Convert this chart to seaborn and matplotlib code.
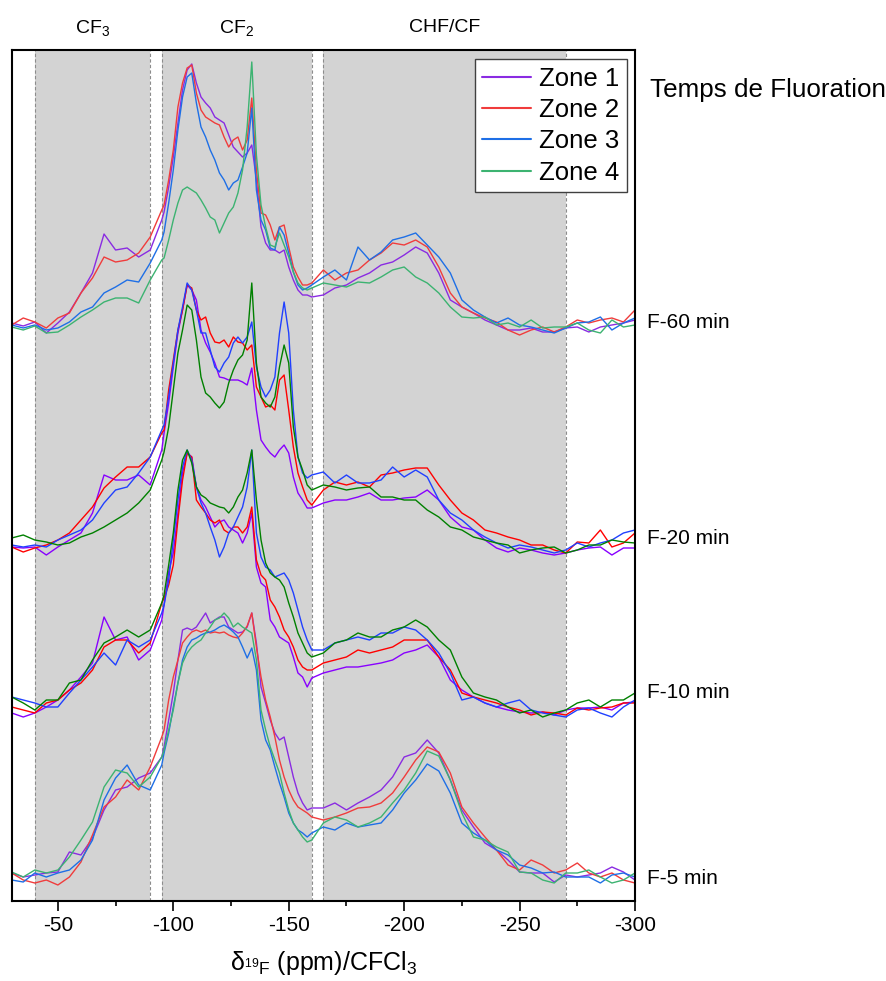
import numpy as np
import pandas as pd
import matplotlib
matplotlib.use("Agg")
import matplotlib.pyplot as plt
from matplotlib.lines import Line2D
from matplotlib.ticker import MultipleLocator
import matplotlib.transforms as mtransforms
import seaborn as sns

# chemical shift grid (ppm), finer sampling over the CF2 region
ppm = np.concatenate([np.arange(-30, -96, -5), np.arange(-96, -161, -2), np.arange(-165, -301, -5)])

zones = ["Zone 1", "Zone 2", "Zone 3", "Zone 4"]
temps = ["F-60 min", "F-20 min", "F-10 min", "F-5 min"]

# intensities (a.u.), relative to each baseline
f60_z1 = [0, -3, 1, -10, 0, 11, 30, 50, 89, 73, 75, 66, 73, 103,
          111, 136, 166, 200, 233, 253, 259, 240, 226, 220, 215, 206, 203, 200, 188, 176, 171, 166, 170, 178,
          143, 96, 80, 73, 73, 70, 73, 56, 43, 33, 28, 28, 26,
          28, 35, 38, 45, 50, 58, 61, 68, 76, 70, 50, 23, 16, 10, 3, -2, -7, -7, -5, -9, -9, -5, -4, -9, -4, -2, 0, 3]
f60_z2 = [-2, 5, 1, -5, 5, 10, 30, 45, 66, 61, 63, 70, 86, 113,
          118, 143, 173, 216, 240, 255, 258, 230, 213, 206, 203, 200, 198, 186, 176, 183, 186, 173, 183, 225,
          153, 110, 108, 98, 83, 96, 98, 76, 56, 46, 38, 38, 40,
          53, 43, 50, 53, 63, 70, 80, 78, 83, 76, 56, 30, 16, 10, 5, 1, -7, -12, -7, -4, -9, -4, 3, 0, 3, 5, 1, 13]
f60_z3 = [-2, -5, -2, -7, -5, 1, 11, 16, 30, 36, 43, 41, 60, 83,
          91, 120, 153, 193, 226, 246, 250, 220, 196, 186, 173, 163, 150, 143, 133, 140, 143, 156, 170, 215,
          133, 103, 93, 75, 73, 96, 88, 70, 51, 38, 33, 35, 38,
          46, 53, 43, 76, 63, 71, 83, 86, 90, 78, 66, 50, 23, 13, 6, 0, 5, -2, -4, -7, -10, -5, 0, 1, 6, -7, 0, 5]
f60_z4 = [-4, -7, -3, -10, -9, -2, 6, 13, 21, 25, 25, 20, 43, 63,
          65, 83, 103, 120, 133, 136, 133, 130, 123, 115, 106, 103, 90, 100, 110, 116, 130, 153, 196, 261,
          168, 118, 96, 78, 76, 90, 78, 66, 51, 40, 35, 33, 35,
          40, 38, 36, 41, 40, 46, 53, 56, 46, 40, 30, 16, 6, 5, 6, -2, 0, -4, 3, -5, -4, -4, 0, -7, -10, 3, -4, -2]

f20_z1 = [-4, -5, -4, -12, -4, 3, 10, 30, 68, 63, 63, 68, 58, 93,
          110, 140, 176, 210, 233, 258, 253, 243, 213, 200, 191, 180, 166, 165, 163, 163, 163, 161, 158, 175,
          133, 103, 96, 90, 86, 93, 98, 90, 66, 50, 43, 35, 35,
          40, 43, 43, 46, 50, 43, 43, 45, 46, 53, 43, 26, 16, 13, 3, -5, -9, -5, -7, -10, -12, -10, -7, -5, -4, -12, -5, -5]
f20_z2 = [-4, -9, -5, -2, 3, 10, 23, 36, 55, 66, 76, 76, 86, 110,
          113, 153, 183, 213, 233, 258, 255, 233, 223, 226, 210, 201, 200, 203, 196, 206, 201, 200, 193, 198,
          156, 146, 136, 138, 133, 163, 168, 133, 96, 70, 56, 43, 38,
          53, 61, 58, 61, 56, 68, 70, 73, 75, 75, 58, 43, 30, 23, 13, 10, 6, 3, -2, -2, -7, -10, 1, 0, 13, -4, 0, 10]
f20_z3 = [-2, -4, -2, -4, 3, 8, 13, 23, 40, 53, 56, 70, 86, 113,
          118, 146, 180, 213, 236, 260, 253, 233, 210, 210, 193, 176, 171, 180, 186, 200, 206, 200, 206, 221,
          176, 156, 146, 153, 166, 210, 241, 210, 133, 86, 70, 65, 68,
          71, 60, 68, 60, 60, 63, 76, 66, 73, 66, 43, 30, 23, 13, 6, 0, -5, -2, -4, -7, -10, -7, 0, -4, 0, 3, 10, 13]
f20_z4 = [5, 8, 3, 1, -2, 0, 6, 10, 16, 23, 30, 40, 53, 83,
          91, 116, 153, 190, 213, 238, 233, 203, 166, 150, 146, 140, 135, 141, 160, 173, 183, 188, 203, 260,
          180, 146, 140, 136, 146, 176, 198, 180, 116, 86, 73, 58, 53,
          58, 56, 53, 55, 56, 46, 46, 43, 43, 33, 26, 16, 13, 6, 3, 0, -2, -10, -7, -5, -4, -10, -7, -2, -2, 3, 1, 0]

f10_z1 = [-8, -12, -8, -2, 5, 15, 28, 42, 88, 65, 68, 45, 55, 85,
          100, 133, 152, 192, 232, 252, 248, 218, 205, 198, 188, 178, 183, 185, 178, 175, 172, 162, 172, 192,
          138, 122, 118, 85, 78, 68, 65, 62, 48, 32, 28, 18, 27,
          32, 35, 38, 38, 40, 42, 45, 52, 55, 60, 48, 25, 15, 8, 2, -2, -5, -7, -8, -7, -10, -5, -3, -3, -2, -5, 2, 3]
f10_z2 = [-2, -5, -8, 2, 5, 15, 22, 35, 58, 65, 65, 52, 62, 102,
          107, 120, 140, 185, 225, 252, 248, 205, 198, 192, 185, 182, 185, 175, 172, 178, 178, 172, 178, 198,
          145, 130, 125, 105, 98, 88, 75, 68, 58, 45, 38, 35, 35,
          42, 45, 48, 55, 52, 55, 58, 65, 65, 65, 48, 35, 12, 8, 5, 2, -2, -5, -10, -7, -8, -10, -3, -5, -3, -2, 2, 2]
f10_z3 = [8, 5, 2, -2, -2, 12, 25, 38, 52, 40, 65, 58, 65, 92,
          100, 125, 165, 205, 238, 255, 245, 218, 202, 192, 178, 165, 148, 158, 172, 178, 188, 198, 218, 255,
          172, 148, 138, 135, 128, 130, 132, 125, 112, 95, 78, 65, 55,
          55, 62, 65, 68, 65, 72, 72, 78, 75, 65, 52, 32, 5, 8, 2, -2, 2, 5, -5, -8, -10, -12, -5, -3, -8, -12, -2, 5]
f10_z4 = [8, 2, -5, 5, 5, 22, 25, 45, 62, 68, 75, 68, 75, 102,
          110, 140, 172, 215, 245, 255, 242, 218, 210, 207, 202, 200, 198, 197, 192, 198, 208, 215, 232, 255,
          205, 165, 142, 132, 128, 125, 118, 102, 88, 72, 62, 52, 48,
          52, 62, 65, 72, 68, 68, 75, 78, 85, 78, 65, 55, 28, 12, 8, 5, -2, -8, -5, -12, -8, -5, 2, 5, -2, 5, 5, 12]

f5_z1 = [3, -1, 1, 3, 4, 24, 21, 38, 66, 86, 89, 98, 103, 119,
         129, 156, 183, 216, 246, 248, 246, 249, 256, 263, 253, 256, 259, 259, 249, 246, 243, 244, 249, 263,
         233, 189, 173, 156, 143, 136, 139, 119, 99, 83, 73, 66, 68,
         68, 73, 66, 73, 79, 86, 99, 119, 123, 136, 123, 96, 66, 49, 33, 26, 16, 4, 3, 3, -6, 1, -1, 1, 3, 9, 4, -4]
f5_z2 = [3, -4, -7, -4, -9, -1, 14, 41, 69, 79, 96, 86, 109, 139,
         146, 176, 199, 216, 233, 239, 244, 246, 244, 246, 243, 244, 243, 244, 241, 239, 238, 243, 250, 263,
         229, 199, 176, 159, 139, 116, 99, 86, 76, 69, 66, 63, 59,
         56, 59, 63, 68, 69, 73, 83, 99, 116, 129, 124, 103, 69, 53, 39, 26, 11, 6, 16, 11, 3, 6, 13, 3, -1, 3, -4, -7]
f5_z3 = [-4, -6, 3, -1, 3, 6, 16, 36, 76, 98, 111, 91, 86, 111,
         123, 143, 169, 193, 216, 229, 236, 238, 241, 243, 244, 246, 249, 251, 248, 244, 239, 229, 218, 228,
         206, 156, 136, 126, 109, 93, 79, 63, 53, 46, 43, 39, 43,
         49, 46, 53, 49, 51, 53, 66, 83, 96, 112, 105, 83, 53, 43, 36, 26, 21, 11, 8, 3, 4, -1, -1, -1, -7, 1, 3, -1]
f5_z4 = [4, -1, 6, 3, 6, 19, 36, 54, 89, 106, 103, 89, 99, 119,
         126, 146, 166, 193, 213, 223, 229, 233, 236, 243, 249, 256, 258, 263, 258, 249, 253, 249, 246, 243,
         216, 166, 146, 129, 116, 103, 83, 66, 53, 46, 39, 34, 36,
         53, 59, 56, 49, 53, 59, 73, 86, 103, 125, 120, 96, 63, 39, 36, 29, 24, 4, 3, -4, -7, 3, 3, 6, -1, -7, -4, 3]

spectra = [[f60_z1, f60_z2, f60_z3, f60_z4],
           [f20_z1, f20_z2, f20_z3, f20_z4],
           [f10_z1, f10_z2, f10_z3, f10_z4],
           [f5_z1, f5_z2, f5_z3, f5_z4]]

# region bands (ppm)
bands = [(-40, -90), (-95, -160), (-165, -270)]
band_names = ["CF$_\\mathregular{3}$", "CF$_\\mathregular{2}$", "CHF/CF"]

# stacking layout
offsets = [578, 358, 196, 25]
label_y = [578, 363, 208, 23]
pal_light = ["#8a2be2", "#f03c3c", "#1e6fe6", "#3cb371"]
pal_dark = ["#8800ff", "#ff0000", "#2040ff", "#008000"]
palettes = [pal_light, pal_dark, pal_dark, pal_light]

sns.set_theme(style="white", rc={"text.color": "black", "axes.labelcolor": "black",
                                 "xtick.color": "black", "axes.edgecolor": "black"})
plt.rcParams["font.family"] = ["Liberation Sans", "DejaVu Sans"]
plt.rcParams["mathtext.fontset"] = "custom"
plt.rcParams["mathtext.rm"] = "Liberation Sans"
plt.rcParams["mathtext.it"] = "Liberation Sans:italic"
plt.rcParams["axes.unicode_minus"] = False

fig = plt.figure(figsize=(8.87, 9.81), dpi=100)
ax = fig.add_axes([11.7 / 887, 80 / 981, 623.3 / 887, 851 / 981])

for lo, hi in bands:
    ax.axvspan(lo, hi, color="#d3d3d3", zorder=0, lw=0)
    for edge in (lo, hi):
        ax.axvline(edge, color="#8c8c8c", lw=0.8, ls=(0, (3, 2)), zorder=0.5)

for g, group in enumerate(spectra):
    rows = []
    for z, vals in enumerate(group):
        for x, v in zip(ppm, vals):
            rows.append({"ppm": x, "signal": offsets[g] + v, "zone": zones[z]})
    df = pd.DataFrame(rows)
    sns.lineplot(data=df, x="ppm", y="signal", hue="zone", palette=palettes[g],
                 estimator=None, sort=False, lw=1.0, legend=False, ax=ax)

ax.set_xlim(-30, -300)
ax.set_ylim(0, 851)
ax.set_yticks([])
ax.set_ylabel("")
ax.xaxis.set_major_locator(MultipleLocator(50))
ax.xaxis.set_minor_locator(MultipleLocator(25))
ax.tick_params(axis="x", which="major", direction="out", length=7, width=1.2,
               labelsize=15, pad=4, bottom=True)
ax.tick_params(axis="x", which="minor", direction="out", length=3.5, width=1.2, bottom=True)
for s in ax.spines.values():
    s.set_linewidth(1.5)
    s.set_color("black")

ax.set_xlabel("δ$_{\\mathregular{^{19}F}}$ (ppm)/CFCl$_\\mathregular{3}$", fontsize=18, labelpad=10)

trans_top = mtransforms.blended_transform_factory(ax.transData, ax.transAxes)
for (lo, hi), name in zip(bands, band_names):
    ax.text((lo + hi) / 2, 1.026, name, transform=trans_top, ha="center", va="center",
            fontsize=14, clip_on=False)

trans_right = mtransforms.blended_transform_factory(ax.transAxes, ax.transData)
for t, y in zip(temps, label_y):
    ax.text(1.019, y, t, transform=trans_right, ha="left", va="center", fontsize=15, clip_on=False)

fig.text(650 / 887, 1 - 90 / 981, "Temps de Fluoration", ha="left", va="center", fontsize=18.7)

handles = [Line2D([], [], color=c, lw=1.5) for c in pal_light]
leg = ax.legend(handles, zones, loc="upper right", bbox_to_anchor=(0.987, 0.989),
                borderaxespad=0, fontsize=18.5, frameon=True, fancybox=False,
                framealpha=1, edgecolor="#404040", handlelength=1.9,
                handletextpad=0.3, labelspacing=0.28, borderpad=0.3)
leg.get_frame().set_linewidth(1.0)

fig.savefig("out.png", dpi=100)
